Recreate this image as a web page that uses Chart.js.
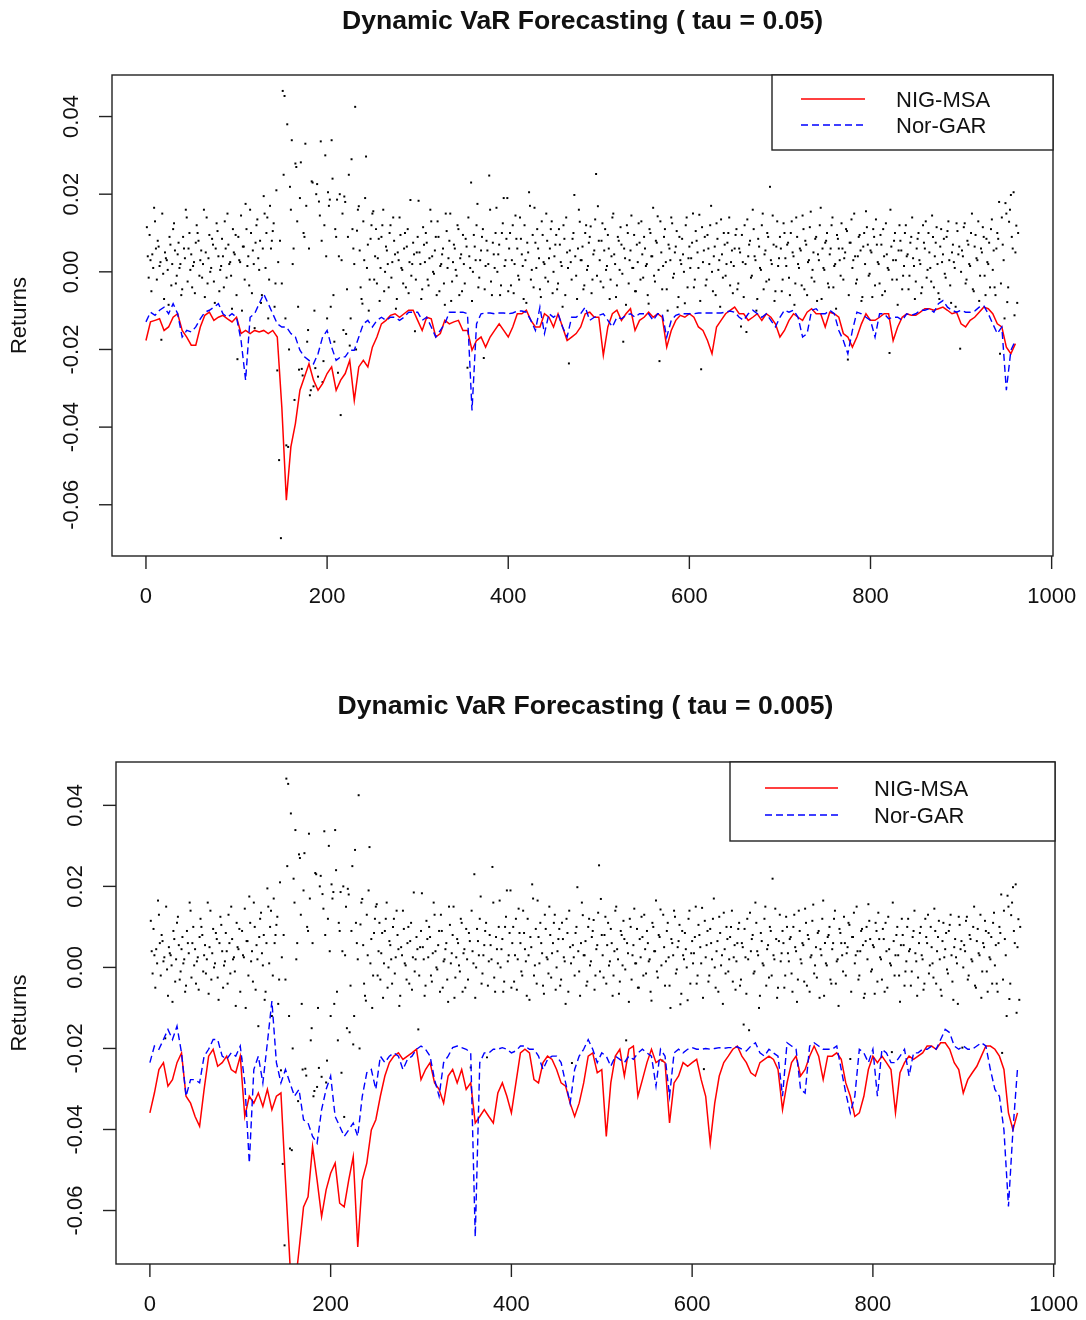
<!DOCTYPE html>
<html>
<head>
<meta charset="utf-8">
<script src="https://cdn.jsdelivr.net/npm/chart.js@4.4.1/dist/chart.umd.min.js"></script>
<style>
  html, body { margin: 0; padding: 0; background: #fff; }
  #wrap { position: relative; width: 1086px; height: 1320px; }
  #wrap canvas { position: absolute; left: 0; }
</style>
</head>
<body>
<div id="wrap">
  <canvas id="c1" width="1086" height="686" style="top:0px"></canvas>
  <canvas id="c2" width="1086" height="634" style="top:686px"></canvas>
</div>
<script>
'use strict';

/* ---------- axis ticks ---------- */
const X_TICKS = [0, 200, 400, 600, 800, 1000];
const Y_TICKS = [0.04, 0.02, 0, -0.02, -0.04, -0.06];
const Y_TICK_LABELS = ['0.04', '0.02', '0.00', '-0.02', '-0.04', '-0.06'];
const SERIES_NAMES = ['NIG-MSA', 'Nor-GAR'];

/* ---------- daily returns in basis points ---------- */
// odd days 1, 3, 5 ... 963
const retOddIdx = Array.from({ length: 482 }, (_, k) => 1 + 2 * k);
const returnsOddBp = [
  115, -15, 30, 45, 165, 60, 80, 15, -175, -5, 50, 30, -85, 70, 20, 125, -30, 45, 10, -60, 90, 35, 140, 60, 5,
  -40, 25, 75, 100, -10, 55, 20, -65, 140, 35, 0, 85, -25, 60, 105, -50, 15, 40, 130, -15, 70, 25, -95, 50, 95,
  -225, 30, 145, 65, -20, 110, 40, 160, -55, 20, 75, 135, 5, -80, 60, 150, 100, -120, 170, 80, 125, -30, -254, -485, -686,
  466, 453, -447, -451, 219, 339, 60, 279, 130, -252, 282, -267, 90, 170, -150, -318, 233, -295, -248, 226, 181, 336, -284, 120, 40,
  205, 186, 339, -60, 110, 186, 40, -369, 150, 194, -160, 90, -190, 290, 60, 425, 106, 169, -40, -82, 30, 297, 70, -20, 120,
  156, 40, -30, 85, 10, 120, -50, 65, 20, 100, -15, 140, 45, -70, 30, 95, 5, 60, -40, 110, 25, -10, 75, -153, 50,
  183, 20, -45, 70, 100, -20, 35, 130, 0, 55, -60, 90, 15, 45, -30, 150, 10, 80, -75, 25, 60, -10, 110, 35, -50,
  20, 85, -247, 40, 230, 0, 65, 120, -40, 30, 90, -222, 15, 55, 248, -25, 75, 10, 165, 45, -60, 100, 190, 30, 190,
  60, -35, 120, 20, 85, -10, 140, 45, -70, 30, 75, 205, -20, 95, 165, 10, 60, -45, 130, 25, -15, 80, 35, 110, -55,
  40, 95, -30, 70, 15, 120, -60, 50, -236, 25, 85, 198, -10, 60, 129, 30, -45, 100, 5, 75, 117, -20, 55, 252, 169,
  30, 80, -40, 110, 15, 60, -20, 140, 45, -65, 90, 5, 70, -180, 35, 120, -30, 55, 10, 95, -50, 25, 75, 130, -15,
  60, 20, -82, 100, 40, -10, 80, 143, -230, 50, 15, 110, -45, 70, 30, 125, -5, 65, -91, 90, 20, 45, -81, 140, 35,
  10, 75, -40, 105, 50, 147, -251, 25, 90, -20, 60, 120, 0, 40, -60, 85, 30, 135, -15, 70, 20, 100, -35, 55, 15,
  95, -45, 60, -141, 25, 120, -155, 40, 80, -10, 110, 30, -70, 65, 5, 150, 45, -25, 90, 219, 20, 70, -50, 130, 35,
  60, -20, 100, 15, 75, -60, 130, 40, -30, 90, 10, 55, 145, -45, 70, 25, 115, -15, 50, 85, -75, 30, 165, 60, 5,
  80, -30, 45, 120, -40, 20, 95, 60, -10, 60, 35, 110, -226, 75, 135, 30, 40, -20, 90, 55, -65, 100, 156, 70, -5,
  50, 110, -35, 70, 20, 95, -60, 40, 125, 10, -209, 65, 30, 100, -20, 55, 80, -45, 15, 120, 45, -10, 90, 35, -70,
  60, 100, 20, -40, 75, 130, 5, 50, -25, 90, 40, 115, -55, 65, 25, 85, -15, 105, 30, -80, 70, 10, 125, 45, -198,
  55, 115, -30, 80, 20, 100, -45, 65, 35, 130, -10, 50, 90, -60, 25, 75, 110, 5, -40, 60, 85, -211, 140, 30, 177,
  -78, 129, 198, 60, -112, 119, 100
];
// even days 2, 4, 6 ... 962
const retEvenIdx = Array.from({ length: 481 }, (_, k) => 2 + 2 * k);
const returnsEvenBp = [
  40, 95, -50, 10, 130, -20, 65, 25, 150, -70, 35, 5, 90, -35, 110, 55, -10, 75, 20, -45, 60, 160, -25, 100, 45,
  15, -55, 120, 80, 30, -15, 160, 50, -30, 95, 10, 70, -80, 125, 40, 5, 85, -40, 60, 150, 20, -10, 110, 45, -60,
  90, 25, -100, 65, 175, 15, -35, 100, 55, -145, 120, 35, 80, -60, 195, 10, 140, -20, 60, 105, -90, 210, 25, 80, -30,
  250, -120, 380, -200, 160, 20, -330, 270, -90, 190, -250, 100, 330, -180, 60, -305, 230, -100, 200, -270, 145, 80, -230, 300, -120,
  170, -90, 240, -180, 90, -260, 200, 30, -150, 180, -45, 250, -120, 110, 20, -200, 160, 55, -70, 130, 190, 10, -100, 85, 150,
  -20, 110, 35, -75, 90, 160, 0, 55, -40, 120, 25, 80, -95, 50, 140, 10, -30, 100, 65, -55, 185, 20, 45, -20, 90,
  50, -70, 115, 25, 75, -35, 160, 40, -5, 90, 130, -50, 20, 60, -85, 105, 35, 150, -25, 70, 5, 120, -60, 45, 95,
  -30, 65, 140, 10, -75, 95, 30, 175, -15, 55, 110, -45, 80, 20, 160, -60, 45, 100, 0, 70, -35, 125, 15, 85, -50,
  100, 30, -55, 145, 60, -20, 85, 15, 120, -80, 50, 170, 5, -40, 75, 110, 35, -65, 95, 20, 150, -25, 60, 130, 0,
  70, -45, 110, 25, -90, 85, 140, 10, 55, -20, 100, 40, -70, 160, 30, 65, -35, 120, 15, 90, -55, 45, 135, -10, 80,
  -25, 125, 55, 5, 95, -70, 40, 150, 20, -35, 80, 115, -5, 60, -85, 100, 30, 145, 10, -50, 70, 125, -20, 45, 90,
  15, -60, 110, 40, 165, -25, 75, 5, 130, -45, 90, 25, -100, 60, 140, -15, 50, 105, -65, 30, 85, 0, 120, -40, 65,
  35, 150, -20, 80, 10, -75, 115, 55, -35, 95, 20, 170, -50, 65, 125, 5, -90, 45, 100, -10, 75, 140, 25, -55, 60,
  110, -30, 50, 95, -65, 20, 135, 70, -15, 160, 40, -100, 85, 10, 120, -45, 55, 100, -20, 30, 145, -75, 65, 15, 90,
  -50, 125, 35, 70, -15, 100, 50, -85, 140, 20, 60, -35, 110, 80, -60, 30, 155, 5, -25, 90, 45, 120, -70, 10, 75,
  100, -40, 60, 140, 15, -95, 85, 30, 125, -20, 50, 105, -60, 75, 10, 150, -30, 40, 95, -75, 65, 20, 115, -10, 55,
  -65, 90, 135, 25, -30, 70, 110, -50, 45, 5, 160, -20, 80, 30, -85, 120, 55, -10, 100, 40, -45, 75, 140, 15, -25,
  85, 30, -55, 120, 60, -15, 100, 10, 145, -40, 75, 20, -70, 110, 45, -5, 90, 130, -35, 50, 25, -90, 105, 65, 0,
  40, 125, -20, 70, 15, 150, -50, 95, 30, -75, 60, 115, -10, 85, 20, -40, 135, 55, -60, 100, 180, -30, 70, -120, 150,
  -40, 160, 90, 205, 50, -80
];

/* ---------- VaR forecasts, basis points, read every 5th day (0, 5, ... 960) ---------- */
const varIdx = Array.from({ length: 193 }, (_, k) => k * 5);

// tau = 0.05
const nig05Bp = [
  -177, -129, -125, -121, -151, -142, -117, -108, -151, -168,
  -189, -189, -142, -112, -104, -125, -117, -112, -121, -129,
  -117, -159, -151, -159, -151, -155, -151, -159, -151, -168,
  -348, -588, -451, -391, -305, -271, -237, -279, -305, -288,
  -262, -245, -305, -279, -262, -228,
  -331, -245, -228, -245, -194, -168, -134, -125, -112, -108,
  -117, -108, -99, -99, -125, -151, -117, -121, -168, -159,
  -125, -134, -129, -125, -151, -151, -202, -177, -168, -194,
  -168, -151, -134, -151, -168, -142, -108, -108, -99, -125,
  -142, -142, -108, -117, -142, -108, -142, -177, -168, -159,
  -142, -108,
  -104, -117, -117, -215, -142, -108, -99, -125, -108, -95,
  -151, -125, -117, -104, -117, -108, -117, -194, -151, -125,
  -112, -117, -108, -117, -142, -151, -177, -211, -142, -125,
  -108, -99, -91, -108, -108, -125, -117, -108, -125, -108,
  -117, -134, -168, -151, -125, -108, -117, -125, -104, -95,
  -108, -108, -142,
  -104, -108, -117, -159, -168, -194, -168, -134, -108, -125,
  -125, -117, -108, -108, -177, -142, -117, -108, -112, -112,
  -104, -95, -95, -99, -95, -91, -99, -108, -104, -134,
  -142, -125, -117, -104, -91, -95, -108, -134, -142, -194,
  -211, -185
];
const gar05Bp = [
  -129, -104, -112, -99, -91, -108, -82, -108, -168, -151,
  -155, -142, -121, -104, -99, -91, -82, -108, -117, -108,
  -117, -177, -279, -117, -108, -82, -57, -82, -108, -134,
  -142, -142, -159, -168, -202, -219, -228, -237, -211, -168,
  -151, -194, -228, -219, -219, -202,
  -202, -168, -134, -125, -142, -125, -117, -125, -117, -117,
  -125, -117, -104, -104, -104, -125, -117, -142, -168, -151,
  -134, -104, -104, -104, -104, -108, -357, -134, -108, -106,
  -106, -108, -106, -106, -108, -106, -101, -101, -104, -125,
  -151, -91, -159, -108, -117, -108, -142, -168, -117, -117,
  -108, -91,
  -125, -117, -112, -108, -125, -142, -117, -121, -112, -108,
  -117, -108, -108, -108, -125, -108, -108, -168, -125, -112,
  -108, -108, -108, -108, -106, -106, -106, -106, -106, -106,
  -104, -101, -104, -117, -125, -108, -99, -108, -117, -108,
  -125, -142, -117, -99, -104, -99, -117, -168, -159, -99,
  -95, -108, -108,
  -99, -108, -151, -177, -211, -151, -104, -108, -117, -125,
  -168, -108, -108, -121, -117, -117, -125, -108, -112, -108,
  -99, -99, -95, -104, -82, -74, -91, -99, -104, -99,
  -104, -104, -101, -91, -87, -108, -134, -159, -142, -305,
  -202, -177
];

// tau = 0.005
const nig005Bp = [
  -359, -310, -252, -235, -293, -277, -235, -211, -318, -335,
  -368, -392, -301, -219, -202, -244, -235, -219, -252, -260,
  -219, -368, -318, -335, -310, -343, -301, -351, -318, -310,
  -525, -731, -800, -698, -591, -566, -442, -525, -615, -549,
  -508, -483, -582, -591, -525, -467,
  -690, -525, -483, -401, -376, -318, -268, -235, -219, -211,
  -227, -219, -211, -202, -277, -252, -235, -285, -301, -335,
  -268, -252, -285, -252, -301, -285, -384, -368, -351, -368,
  -384, -310, -285, -318, -359, -285, -211, -202, -211, -277,
  -285, -235, -219, -227, -252, -285, -293, -335, -368, -335,
  -285, -219,
  -211, -260, -252, -417, -285, -219, -202, -268, -202, -194,
  -318, -277, -235, -202, -235, -227, -235, -384, -285, -268,
  -235, -244, -235, -227, -277, -318, -434, -335, -268, -235,
  -219, -202, -194, -219, -235, -260, -268, -235, -227, -219,
  -227, -252, -351, -285, -235, -219, -268, -252, -219, -194,
  -219, -277, -219,
  -219, -211, -227, -285, -318, -368, -359, -318, -252, -219,
  -235, -219, -235, -252, -359, -260, -235, -219, -227, -219,
  -211, -194, -194, -202, -186, -186, -202, -235, -252, -310,
  -277, -260, -244, -219, -194, -194, -202, -219, -252, -359,
  -401, -359
];
const gar005Bp = [
  -235, -194, -202, -178, -153, -178, -145, -211, -318, -277,
  -277, -285, -219, -202, -178, -178, -219, -227, -211, -219,
  -194, -285, -483, -252, -219, -285, -186, -83, -235, -285,
  -252, -285, -318, -301, -376, -384, -417, -434, -351, -301,
  -268, -368, -392, -417, -401, -384,
  -417, -318, -260, -252, -301, -219, -235, -219, -211, -219,
  -252, -227, -219, -202, -194, -202, -219, -277, -318, -235,
  -219, -198, -194, -198, -202, -211, -665, -235, -211, -211,
  -202, -202, -198, -202, -211, -206, -194, -194, -202, -202,
  -219, -252, -227, -219, -219, -235, -285, -335, -252, -219,
  -202, -178,
  -202, -235, -211, -219, -244, -219, -227, -235, -219, -227,
  -211, -202, -211, -219, -293, -202, -219, -318, -211, -202,
  -211, -202, -198, -202, -202, -200, -202, -200, -198, -200,
  -198, -198, -196, -202, -206, -194, -186, -211, -219, -202,
  -211, -219, -318, -186, -194, -202, -301, -310, -194, -186,
  -194, -202, -202,
  -202, -194, -252, -310, -359, -318, -202, -211, -235, -202,
  -318, -202, -211, -235, -235, -219, -202, -268, -211, -211,
  -202, -202, -194, -202, -178, -153, -161, -194, -202, -194,
  -202, -202, -194, -186, -194, -252, -301, -318, -401, -590,
  -401, -250
];

const FONT = '"Liberation Sans", Arial, sans-serif';

function toPoints(xs, bp) {
  return xs.map((x, k) => ({ x: x, y: bp[k] / 10000 }));
}

function framePlugin(cfg) {
  return {
    id: 'rframe',
    afterDraw(chart) {
      const ctx = chart.ctx, a = chart.chartArea;
      const xs = chart.scales.x, ys = chart.scales.y;
      ctx.save();
      ctx.strokeStyle = '#222';
      ctx.lineWidth = 1.4;
      ctx.strokeRect(a.left, a.top, a.right - a.left, a.bottom - a.top);

      ctx.fillStyle = '#111';
      ctx.font = '22px ' + FONT;
      ctx.textAlign = 'center';
      ctx.textBaseline = 'middle';

      X_TICKS.forEach(v => {
        const px = xs.getPixelForValue(v);
        ctx.beginPath(); ctx.moveTo(px, a.bottom); ctx.lineTo(px, a.bottom + 13); ctx.stroke();
        ctx.fillText(String(v), px, a.bottom + 41);
      });
      Y_TICKS.forEach((v, k) => {
        const py = ys.getPixelForValue(v);
        ctx.beginPath(); ctx.moveTo(a.left, py); ctx.lineTo(a.left - 13, py); ctx.stroke();
        ctx.save();
        ctx.translate(a.left - 40, py);
        ctx.rotate(-Math.PI / 2);
        ctx.fillText(Y_TICK_LABELS[k], 0, 0);
        ctx.restore();
      });

      ctx.save();
      ctx.translate(20, (a.top + a.bottom) / 2);
      ctx.rotate(-Math.PI / 2);
      ctx.fillText('Returns', 0, 0);
      ctx.restore();

      ctx.font = 'bold 26.6px ' + FONT;
      ctx.fillText(cfg.title, (a.left + a.right) / 2, cfg.titleY);

      // legend
      const L = cfg.legend;
      ctx.fillStyle = '#fff';
      ctx.fillRect(L.x0, L.y0, L.x1 - L.x0, L.y1 - L.y0);
      ctx.strokeStyle = '#222';
      ctx.lineWidth = 1.4;
      ctx.strokeRect(L.x0, L.y0, L.x1 - L.x0, L.y1 - L.y0);
      ctx.lineWidth = 1.4;
      ctx.strokeStyle = '#ff0000';
      ctx.beginPath(); ctx.moveTo(L.lx0, L.rows[0]); ctx.lineTo(L.lx1, L.rows[0]); ctx.stroke();
      ctx.strokeStyle = '#0000ff';
      ctx.setLineDash([7, 4]);
      ctx.beginPath(); ctx.moveTo(L.lx0, L.rows[1]); ctx.lineTo(L.lx1, L.rows[1]); ctx.stroke();
      ctx.setLineDash([]);
      ctx.fillStyle = '#111';
      ctx.font = '22px ' + FONT;
      ctx.textAlign = 'left';
      ctx.fillText(SERIES_NAMES[0], L.tx, L.rows[0] + 2);
      ctx.fillText(SERIES_NAMES[1], L.tx, L.rows[1] + 2);
      ctx.restore();
    }
  };
}

function makeChart(id, cfg) {
  const ctx = document.getElementById(id).getContext('2d');
  const returnPts = toPoints(retOddIdx, returnsOddBp).concat(toPoints(retEvenIdx, returnsEvenBp));
  return new Chart(ctx, {
    type: 'scatter',
    data: {
      datasets: [
        { label: SERIES_NAMES[1], data: toPoints(varIdx, cfg.garBp), showLine: true,
          borderColor: '#0000ff', borderWidth: 1.4, borderDash: [7, 4], pointRadius: 0, tension: 0 },
        { label: SERIES_NAMES[0], data: toPoints(varIdx, cfg.nigBp), showLine: true,
          borderColor: '#ff0000', borderWidth: 1.5, pointRadius: 0, tension: 0 },
        { label: 'Returns', data: returnPts, showLine: false,
          pointStyle: 'rect', pointRadius: 1.4, backgroundColor: '#000', borderWidth: 0 }
      ]
    },
    options: {
      responsive: false,
      animation: false,
      events: [],
      layout: { padding: cfg.pad },
      plugins: { legend: { display: false }, tooltip: { enabled: false } },
      scales: {
        x: { type: 'linear', min: -37.5, max: 1001.5, display: false },
        y: { type: 'linear', min: -0.0732, max: 0.0507, display: false }
      }
    },
    plugins: [framePlugin(cfg)]
  });
}

makeChart('c1', {
  title: 'Dynamic VaR Forecasting ( tau = 0.05)',
  titleY: 22,
  nigBp: nig05Bp, garBp: gar05Bp,
  pad: { left: 112, right: 33, top: 75, bottom: 130 },
  legend: { x0: 772, y0: 75, x1: 1053, y1: 150, lx0: 801, lx1: 865, tx: 896, rows: [99, 125] }
});

makeChart('c2', {
  title: 'Dynamic VaR Forecasting ( tau = 0.005)',
  titleY: 21,
  nigBp: nig005Bp, garBp: gar005Bp,
  pad: { left: 116, right: 31, top: 76, bottom: 56 },
  legend: { x0: 730, y0: 76, x1: 1055, y1: 155, lx0: 765, lx1: 838, tx: 874, rows: [102, 129] }
});
</script>
</body>
</html>
